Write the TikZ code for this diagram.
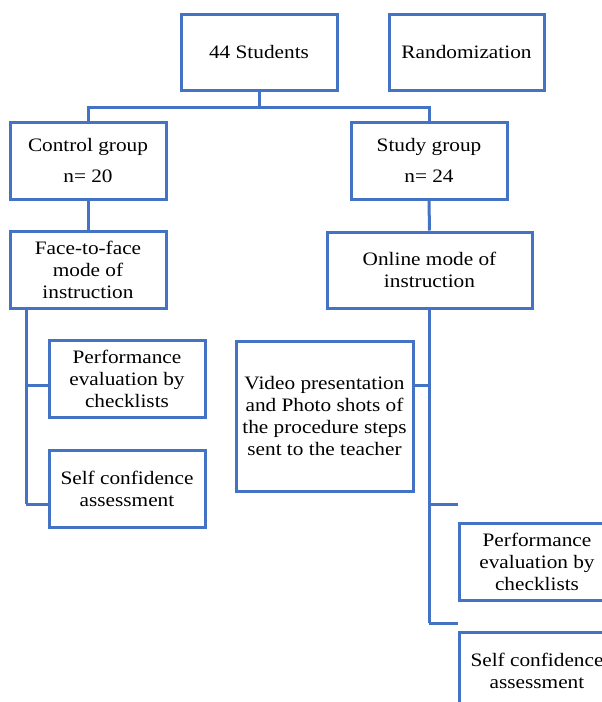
\documentclass[tikz,border=0pt]{standalone}
\usepackage{fontspec}
\setmainfont{Liberation Serif}[FakeStretch=1.12]
\usepackage{tikz}
\usetikzlibrary{positioning}
\definecolor{boxblue}{RGB}{68,114,196}
\tikzset{
  box/.style={draw=boxblue,line width=3pt,align=center,inner sep=0pt,
    font=\fontsize{19}{22}\selectfont},
  link/.style={draw=boxblue,line width=3pt}
}

\begin{document}
\begin{tikzpicture}[x=1pt,y=-1pt]
%\draw[help lines] (0,0) grid[step=50] (602,702);
\useasboundingbox (0,0) rectangle (602,702);
\clip (0,0) rectangle (602,702);
%
\node[box,minimum width=156,minimum height=76] (stud) at (259,52) {44 Students};
\node[box,minimum width=155,minimum height=76] (rand) at (466.5,52) {Randomization};
%
\node[box,minimum width=156,minimum height=77] (ctrl) at (88,160.5) {Control group\\[9pt] n= 20};
\node[box,minimum width=156,minimum height=77] (study) at (429,160.5) {Study group\\[9pt] n= 24};
%
\node[box,minimum width=156,minimum height=77] (face) at (88,269.5) {Face-to-face\\ mode of\\ instruction};
\node[box,minimum width=205,minimum height=76] (online) at (429.5,270) {Online mode of\\ instruction};
%
\foreach \n/\y/\t in {perfL/379/{Performance\\ evaluation by\\ checklists},selfL/488.5/{Self confidence\\ assessment}}
\node[box,minimum width=156,minimum height=77] (\n) at (127,\y) {\t};
\node[box,minimum width=177,minimum height=150] (video) at (324.5,416)
  {Video presentation\\ and Photo shots of\\ the procedure steps\\ sent to the teacher};
\foreach \n/\y/\t in {perfR/561.5/{Performance\\ evaluation by\\ checklists},selfR/670.5/{Self confidence\\ assessment}}
\node[box,minimum width=156,minimum height=77] (\n) at (537,\y) {\t};
%
% split of the students
\coordinate (split) at (259,107);
\draw[link] (stud.south) -- (split);
\draw[link] (ctrl.north) |- (split) -| (study.north);
\draw[link] (ctrl.south) -- (face.north);
\draw[link] (study.south) -- (online.north);
%
% control side
\coordinate (l1) at (26,385);
\coordinate (l2) at (26,504);
\draw[link] (l1 |- face.south) -- (l2);
\draw[link] (l1) -- (l1 -| perfL.west);
\draw[link] (l2) -- (l2 -| selfL.west);
%
% study side
\coordinate (r1) at (429,385);
\coordinate (r2) at (429,504);
\coordinate (r3) at (429,623);
\draw[link] (r1 |- online.south) -- (r3);
\draw[link] (r1) -- (r1 -| video.east);
\draw[link] (r2) -- (r2 -| perfR.west);
\draw[link] (r3) -- (r3 -| selfR.west);
\end{tikzpicture}
\end{document}
